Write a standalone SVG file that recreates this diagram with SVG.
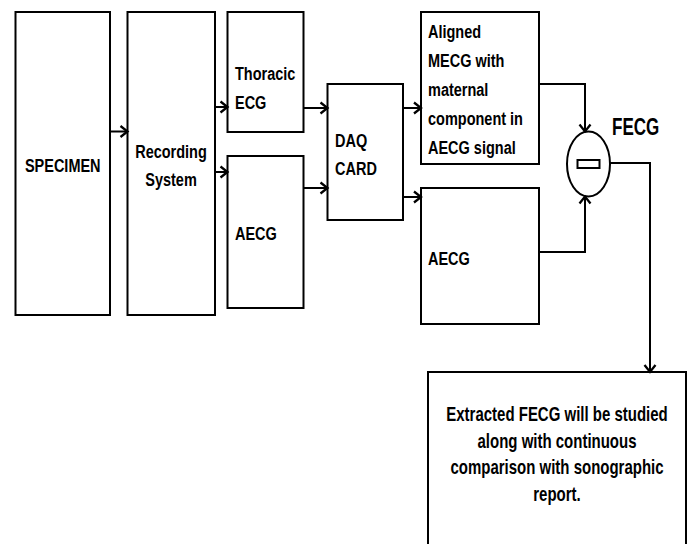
<svg xmlns="http://www.w3.org/2000/svg" width="689" height="544" viewBox="0 0 689 544">
<style>
.box{fill:#fff;stroke:#000;stroke-width:2}
.t{font-family:"Liberation Sans",Arial,sans-serif;font-weight:bold;font-size:14.5px;fill:#000}
.c{fill:none;stroke:#000;stroke-width:2;marker-end:url(#ah)}
</style>
<defs>
<marker id="ah" markerUnits="userSpaceOnUse" viewBox="-10 -8 12 16" refX="0" refY="0" markerWidth="12" markerHeight="16" orient="auto" overflow="visible">
<path d="M-7,-5.5 L0,0 L-7,5.5" fill="none" stroke="#000" stroke-width="2.3"/>
</marker>
</defs>
<rect width="689" height="544" fill="#fff"/>
<g id="specimen">
<rect class="box" x="15.5" y="12" width="94.5" height="303"/>
<text class="t" text-anchor="middle" transform="translate(62.75,172) scale(1,1.3)">SPECIMEN</text>
</g>
<g id="recording">
<rect class="box" x="127.5" y="12" width="87.5" height="303"/>
<text class="t" text-anchor="middle" transform="translate(171,158) scale(1,1.3)"><tspan x="0">Recording</tspan><tspan x="0" dy="21.5">System</tspan></text>
</g>
<g id="thoracic">
<rect class="box" x="227.5" y="12" width="76" height="120"/>
<text class="t" transform="translate(235,80) scale(1,1.3)"><tspan x="0">Thoracic</tspan><tspan x="0" dy="22.3">ECG</tspan></text>
</g>
<g id="aecg1">
<rect class="box" x="227.5" y="156" width="76" height="152"/>
<text class="t" transform="translate(235,240) scale(1,1.3)">AECG</text>
</g>
<g id="daq">
<rect class="box" x="327.5" y="84" width="75.5" height="136"/>
<text class="t" transform="translate(335,147) scale(1,1.3)"><tspan x="0">DAQ</tspan><tspan x="0" dy="21.5">CARD</tspan></text>
</g>
<g id="aligned">
<rect class="box" x="421" y="12" width="118" height="152"/>
<text class="t" transform="translate(428,38) scale(1,1.3)"><tspan x="0">Aligned</tspan><tspan x="0" dy="22.3">MECG with</tspan><tspan x="0" dy="22.3">maternal</tspan><tspan x="0" dy="22.3">component in</tspan><tspan x="0" dy="22.3">AECG signal</tspan></text>
</g>
<g id="aecg2">
<rect class="box" x="421" y="188" width="118" height="136"/>
<text class="t" transform="translate(428,265) scale(1,1.3)">AECG</text>
</g>
<g id="subtract">
<ellipse class="box" cx="588.5" cy="164" rx="21.5" ry="32.5"/>
<rect class="box" x="577.5" y="160" width="22" height="8"/>
</g>
<g id="fecg-label">
<text class="t" style="font-size:17px" transform="translate(612,135) scale(1,1.4)">FECG</text>
</g>
<g id="extracted">
<rect class="box" x="428" y="372" width="258" height="180"/>
<text class="t" style="font-size:15px" text-anchor="middle" transform="translate(557,421) scale(1,1.3)"><tspan x="0">Extracted FECG will be studied</tspan><tspan x="0" dy="20.5">along with continuous</tspan><tspan x="0" dy="20.5">comparison with sonographic</tspan><tspan x="0" dy="20.5">report.</tspan></text>
</g>
<g id="connectors">
<path class="c" d="M110,131.5 H127.5"/>
<path class="c" d="M215,107 H227.5"/>
<path class="c" d="M215,172 H227.5"/>
<path class="c" d="M303.5,108 H327.5"/>
<path class="c" d="M303.5,188 H327.5"/>
<path class="c" d="M403,108 H421"/>
<path class="c" d="M403,197 H421"/>
<path class="c" d="M539,84 H585 V131.5"/>
<path class="c" d="M539,252 H585 V196.5"/>
<path class="c" d="M610,163 H650 V372"/>
</g>
</svg>
